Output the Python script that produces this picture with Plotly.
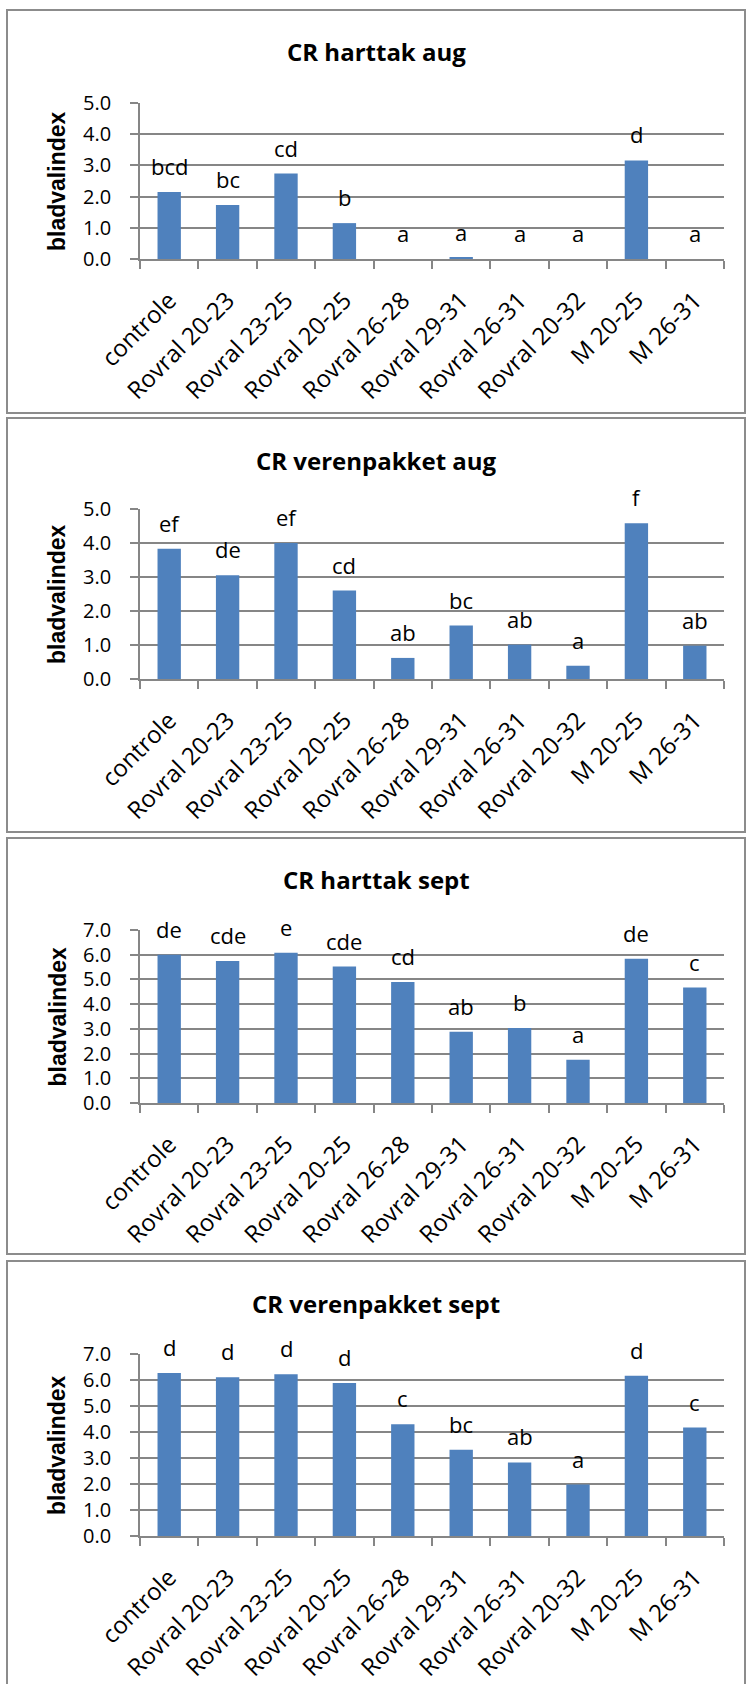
import plotly.graph_objects as go

W, H = 746, 1684

categories = ["controle", "Rovral 20-23", "Rovral 23-25", "Rovral 20-25", "Rovral 26-28",
              "Rovral 29-31", "Rovral 26-31", "Rovral 20-32", "M 20-25", "M 26-31"]

harttak_aug = [2.15, 1.73, 2.74, 1.15, 0.0, 0.04, 0.0, 0.0, 3.16, 0.0]
harttak_aug_letters = ["bcd", "bc", "cd", "b", "a", "a", "a", "a", "d", "a"]

verenpakket_aug = [3.83, 3.05, 4.0, 2.6, 0.62, 1.57, 1.01, 0.39, 4.58, 0.98]
verenpakket_aug_letters = ["ef", "de", "ef", "cd", "ab", "bc", "ab", "a", "f", "ab"]

harttak_sept = [6.0, 5.75, 6.08, 5.52, 4.9, 2.88, 3.03, 1.75, 5.84, 4.67]
harttak_sept_letters = ["de", "cde", "e", "cde", "cd", "ab", "b", "a", "de", "c"]

verenpakket_sept = [6.27, 6.11, 6.22, 5.88, 4.3, 3.32, 2.83, 1.98, 6.16, 4.17]
verenpakket_sept_letters = ["d", "d", "d", "d", "c", "bc", "ab", "a", "d", "c"]

titles = ["CR harttak aug", "CR verenpakket aug", "CR harttak sept", "CR verenpakket sept"]
y_max = [5, 5, 7, 7]
y_title = "bladvalindex"

# panel layout in pixels (top of page = 0)
panel_box = [(10, 413), (418, 832), (838, 1254), (1261, 1700)]
plot_box = [(103, 259), (509, 679), (930, 1103), (1354, 1536)]
title_y = [51, 460, 880, 1303]
plot_x = (140, 724)

BAR = "#4F81BD"
GRID = "#868686"
BORDER = "#8C8C8C"
FONT = "'Open Sans', Lato, sans-serif"

series = [harttak_aug, verenpakket_aug, harttak_sept, verenpakket_sept]
letters = [harttak_aug_letters, verenpakket_aug_letters, harttak_sept_letters, verenpakket_sept_letters]


def py(p):
    return 1 - p / H


fig = go.Figure()
annotations = []
shapes = []

for i in range(4):
    n = "" if i == 0 else str(i + 1)
    xa, ya = "x" + n, "y" + n
    fig.add_trace(go.Bar(x=categories, y=series[i], marker=dict(color=BAR, line=dict(width=0)),
                         xaxis=xa, yaxis=ya, showlegend=False, hoverinfo="x+y"))
    top, bot = plot_box[i]
    fig.layout["xaxis" + n] = dict(
        domain=[plot_x[0] / W, plot_x[1] / W], anchor=ya, automargin=False,
        type="category", tickangle=-45, tickson="boundaries",
        ticks="outside", ticklen=8, tickcolor=GRID, tickwidth=1.6,
        showline=True, linecolor=GRID, linewidth=1.7, showgrid=False,
        tickfont=dict(family=FONT, size=24, color="black"),
        ticklabelstandoff=16, fixedrange=True,
    )
    fig.layout["yaxis" + n] = dict(
        domain=[py(bot), py(top)], anchor=xa, automargin=False,
        range=[0, y_max[i]], dtick=1, tickformat=".1f",
        ticks="outside", ticklen=8, tickcolor=GRID, tickwidth=1.6,
        showline=True, linecolor=GRID, linewidth=1.7,
        showgrid=True, gridcolor=GRID, gridwidth=1.7, zeroline=False,
        tickfont=dict(family=FONT, size=20, color="black"),
        ticklabelstandoff=15, fixedrange=True,
    )
    # letters above each bar
    for c, v, t in zip(categories, series[i], letters[i]):
        annotations.append(dict(x=c, y=v, xref=xa, yref=ya, text=t, showarrow=False,
                                yanchor="middle", yshift=26,
                                font=dict(family=FONT, size=22, color="black")))
    # chart title
    annotations.append(dict(x=(7 + 745) / 2 / W, y=py(title_y[i]), xref="paper", yref="paper",
                            text="<b>" + titles[i] + "</b>", showarrow=False,
                            xanchor="center", yanchor="middle",
                            font=dict(family=FONT, size=24, color="black")))
    # y axis title
    annotations.append(dict(x=57 / W, y=py((top + bot) / 2), xref="paper", yref="paper",
                            text="<b>" + y_title + "</b>", showarrow=False, textangle=-90,
                            xanchor="center", yanchor="middle",
                            font=dict(family="'Liberation Sans', Arial, sans-serif", size=23,
                                      color="black")))
    # chart frame
    t0, b0 = panel_box[i]
    shapes.append(dict(type="rect", xref="paper", yref="paper",
                       x0=7 / W, x1=745 / W, y0=py(b0), y1=py(t0),
                       line=dict(color=BORDER, width=2), fillcolor="rgba(0,0,0,0)", layer="below"))

fig.update_layout(
    width=W, height=H, margin=dict(l=0, r=0, t=0, b=0, pad=0, autoexpand=False),
    paper_bgcolor="white", plot_bgcolor="white",
    bargap=0.6, annotations=annotations, shapes=shapes,
    showlegend=False,
)

fig.write_html("out.html", config={"displayModeBar": False})
